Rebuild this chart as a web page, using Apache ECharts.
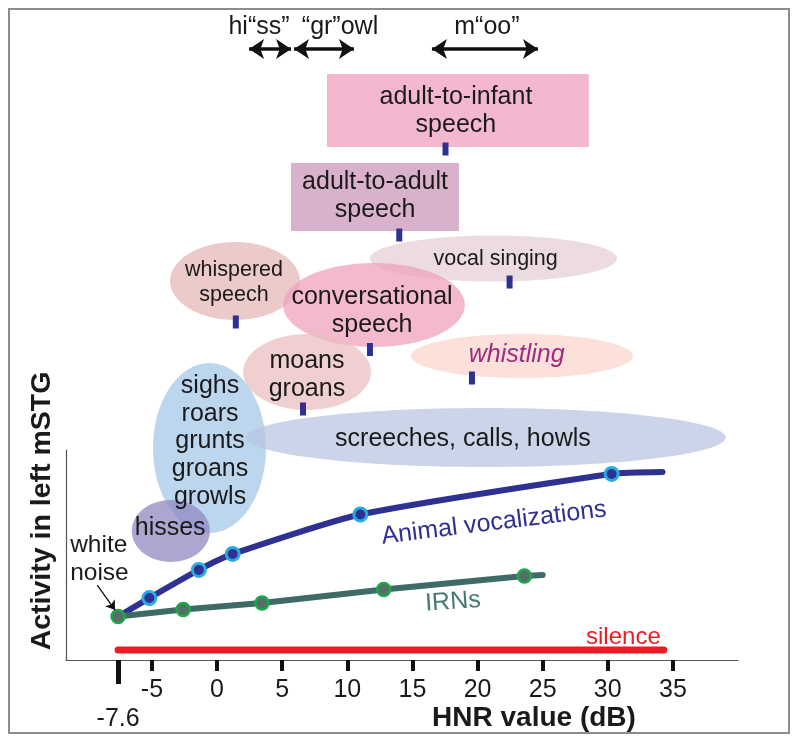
<!DOCTYPE html>
<html><head><meta charset="utf-8">
<script src="https://cdn.jsdelivr.net/npm/echarts@6/dist/echarts.min.js"></script>
<style>html,body{margin:0;padding:0;background:#fff}#chart{width:800px;height:743px}</style>
</head><body><div id="chart"></div>
<script>
// ---------- axis ----------
const hnrTicks = [-5, 0, 5, 10, 15, 20, 25, 30, 35];
const whiteNoiseHNR = [-7.6];
const hnrMin = -11.6, hnrMax = 40;

// ---------- lower plot (activity in left mSTG, arbitrary units 0-100) ----------
const animalHNR      = [-7.6, -5.2, -1.4, 1.2, 11.0, 30.3, 34.2];
const animalActivity = [20.7, 29.5, 42.9, 50.5, 69.3, 88.6, 89.5];
const animalMarked   = [false, true, true, true, true, true, false];

const irnHNR      = [-7.6, -2.6, 3.45, 12.8, 23.6, 25.0];
const irnActivity = [20.7, 24.0, 27.1, 33.6, 40.0, 40.5];
const irnMarked   = [true, true, true, true, true, false];

const silenceHNR      = [-7.6, 34.3];
const silenceActivity = [4.8, 4.8];

const noteTexts    = ['Animal vocalizations', 'IRNs', 'silence', 'white\nnoise'];
const noteHNR      = [21.26, 18.11, 31.2, -11.28];
const noteActivity = [65.2, 27.6, 11.0, 48.1];
const whiteNoiseArrowHNR      = [-9.2, -7.83];
const whiteNoiseArrowActivity = [35.7, 23.8];

// ---------- upper panel (sound categories by HNR; level = vertical placement) ----------
const boxNames = ['adult-to-infant speech', 'adult-to-adult speech'];
const boxHNRFrom = [8.44, 5.68];
const boxHNRTo   = [28.55, 18.57];
const boxLevelFrom = [513, 429];
const boxLevelTo   = [586, 497];

const ellipseNames = ['vocal singing', 'whispered speech', 'conversational speech', 'moans groans',
                      'whistling', 'sighs roars grunts groans growls', 'screeches, calls, howls', 'hisses'];
const ellipseHNR      = [21.22, 1.38, 12.05, 6.91, 23.41, -0.58, 20.64, -3.55];
const ellipseHNRHalf  = [9.48, 4.99, 6.98, 4.91, 8.52, 4.34, 18.42, 3.0];
const ellipseLevel     = [401.5, 379, 355, 288, 304, 212, 222.5, 129];
const ellipseLevelHalf = [23, 39, 42, 38, 22, 85, 29.5, 31];

const meanNames = ['adult-to-infant', 'adult-to-adult', 'vocal singing', 'whispered', 'conversational', 'whistling', 'moans groans'];
const meanHNR   = [17.54, 13.99, 22.46, 1.44, 11.74, 19.57, 6.6];
const meanLevel = [511, 425, 378, 338, 310.5, 282, 251];

const labelTexts = ['adult-to-infant\nspeech', 'adult-to-adult\nspeech', 'vocal singing', 'whispered\nspeech',
                    'conversational\nspeech', 'whistling', 'moans\ngroans', 'sighs\nroars\ngrunts\ngroans\ngrowls',
                    'screeches, calls, howls', 'hisses'];
const labelHNR   = [18.34, 12.13, 21.39, 1.3, 11.9, 23.0, 6.9, -0.54, 18.88, -3.6];
const labelLevel = [549, 464, 400.7, 377, 349, 305, 285, 218.5, 221, 132];

const arrowTexts = ['hi\u201css\u201d', '\u201cgr\u201dowl', 'm\u201coo\u201d'];
const arrowTextHNR = [3.22, 9.44, 20.72];
const arrowTextLevel = [633, 633, 633];
const arrowFrom = [2.46, 5.91, 16.5];
const arrowTo   = [5.68, 10.51, 24.64];
const arrowLevel = [611, 611, 611];

// ---------- styles ----------
const FONT = "'Liberation Sans', Arial, sans-serif";
const boxColors = ['#f3b8cf', '#d9b1cc'];
const ellipseColors = ['rgba(230,207,216,0.75)', 'rgba(230,184,184,0.75)', 'rgba(239,162,188,0.75)',
  'rgba(234,191,191,0.75)', 'rgba(252,214,205,0.75)', 'rgba(166,200,232,0.75)',
  'rgba(186,197,224,0.75)', 'rgba(144,136,194,0.75)'];
const labelStyles = [
  {size: 25, lh: 28.5}, {size: 25, lh: 28.5}, {size: 21.5, lh: 24}, {size: 21.5, lh: 25},
  {size: 25, lh: 28.5}, {size: 25, lh: 28, italic: true, color: '#9b2d7f'}, {size: 25, lh: 28.6},
  {size: 25, lh: 27.7}, {size: 25, lh: 28}, {size: 25, lh: 28}];
const noteStyles = [
  {size: 25, color: '#2e3192', rot: 7, align: 'center'},
  {size: 25, color: '#4b7873', rot: 4, align: 'center'},
  {size: 24, color: '#ed1c24', rot: 0, align: 'center'},
  {size: 24.5, color: '#1a1a1a', rot: 0, align: 'left', lh: 27.7}];

const chart = echarts.init(document.getElementById('chart'), null, {renderer: 'canvas'});

const animalData = animalHNR.map((x, i) => animalMarked[i] ? [x, animalActivity[i]] : {value: [x, animalActivity[i]], symbol: 'none'});
const irnData = irnHNR.map((x, i) => irnMarked[i] ? [x, irnActivity[i]] : {value: [x, irnActivity[i]], symbol: 'none'});

const option = {
  animation: false,
  backgroundColor: '#fff',
  grid: [
    {left: 66, right: 62, top: 450, bottom: 83},
    {left: 66, right: 62, top: 0, bottom: 83}
  ],
  xAxis: [
    {gridIndex: 0, type: 'value', min: hnrMin, max: hnrMax, position: 'bottom',
     axisLine: {show: true, onZero: false, lineStyle: {color: '#555', width: 1.2}},
     axisTick: {show: true, customValues: hnrTicks, length: 11, lineStyle: {color: '#111', width: 4}},
     axisLabel: {show: true, customValues: hnrTicks, margin: 18, fontSize: 25, fontFamily: FONT, color: '#1a1a1a'},
     splitLine: {show: false}},
    {gridIndex: 0, type: 'value', min: hnrMin, max: hnrMax, position: 'bottom',
     axisLine: {show: false, onZero: false},
     axisTick: {show: true, customValues: whiteNoiseHNR, length: 24, lineStyle: {color: '#111', width: 5}},
     axisLabel: {show: true, customValues: whiteNoiseHNR, margin: 47, fontSize: 25, fontFamily: FONT, color: '#1a1a1a'},
     splitLine: {show: false}},
    {gridIndex: 1, type: 'value', min: hnrMin, max: hnrMax, show: false}
  ],
  yAxis: [
    {gridIndex: 0, type: 'value', min: 0, max: 100,
     axisLine: {show: true, onZero: false, lineStyle: {color: '#555', width: 1.2}},
     axisTick: {show: false}, axisLabel: {show: false}, splitLine: {show: false}},
    {gridIndex: 1, type: 'value', min: 0, max: 660, show: false}
  ],
  graphic: [
    {type: 'rect', shape: {x: 9, y: 9, width: 780, height: 724}, style: {fill: 'none', stroke: '#8c8c8c', lineWidth: 2}, z: 100},
    {type: 'text', x: 42, y: 511, rotation: Math.PI / 2,
     style: {text: 'Activity in left mSTG', font: "bold 28.5px " + FONT, fill: '#1a1a1a', align: 'center', verticalAlign: 'middle'}},
    {type: 'text', x: 534, y: 718,
     style: {text: 'HNR value (dB)', font: "bold 28px " + FONT, fill: '#1a1a1a', align: 'center', verticalAlign: 'middle'}}
  ],
  series: [
    // category boxes
    {type: 'custom', xAxisIndex: 2, yAxisIndex: 1, z: 1,
     data: boxHNRFrom.map((x, i) => [x, boxLevelFrom[i], boxHNRTo[i], boxLevelTo[i]]),
     renderItem: (params, api) => {
       const p1 = api.coord([api.value(0), api.value(3)]);
       const p2 = api.coord([api.value(2), api.value(1)]);
       return {type: 'rect', shape: {x: p1[0], y: p1[1], width: p2[0] - p1[0], height: p2[1] - p1[1]},
               style: {fill: boxColors[params.dataIndex]}};
     }},
    // category ellipses
    {type: 'custom', xAxisIndex: 2, yAxisIndex: 1, z: 2,
     data: ellipseHNR.map((x, i) => [x, ellipseLevel[i], ellipseHNRHalf[i], ellipseLevelHalf[i]]),
     renderItem: (params, api) => {
       const c = api.coord([api.value(0), api.value(1)]);
       const e = api.coord([api.value(0) + api.value(2), api.value(1) + api.value(3)]);
       return {type: 'ellipse', shape: {cx: c[0], cy: c[1], rx: Math.abs(e[0] - c[0]), ry: Math.abs(e[1] - c[1])},
               style: {fill: ellipseColors[params.dataIndex]}};
     }},
    // mean HNR markers
    {type: 'scatter', xAxisIndex: 2, yAxisIndex: 1, z: 3,
     data: meanHNR.map((x, i) => [x, meanLevel[i]]),
     symbol: 'rect', symbolSize: [6, 13], itemStyle: {color: '#2e3192', opacity: 1}},
    // category labels
    {type: 'custom', xAxisIndex: 2, yAxisIndex: 1, z: 4,
     data: labelHNR.map((x, i) => [x, labelLevel[i]]),
     renderItem: (params, api) => {
       const c = api.coord([api.value(0), api.value(1)]);
       const s = labelStyles[params.dataIndex];
       return {type: 'text', x: c[0], y: c[1],
               style: {text: labelTexts[params.dataIndex], font: (s.italic ? 'italic ' : '') + s.size + 'px ' + FONT,
                       fill: s.color || '#1a1a1a', align: 'center', verticalAlign: 'middle', lineHeight: s.lh}};
     }},
    // top arrows
    {type: 'lines', coordinateSystem: 'cartesian2d', xAxisIndex: 2, yAxisIndex: 1, z: 4,
     data: arrowFrom.map((x, i) => ({coords: [[x, arrowLevel[i]], [arrowTo[i], arrowLevel[i]]]})),
     symbol: ['arrow', 'arrow'], symbolSize: 15,
     lineStyle: {color: '#111', width: 3.5, opacity: 1}},
    {type: 'custom', xAxisIndex: 2, yAxisIndex: 1, z: 4,
     data: arrowTextHNR.map((x, i) => [x, arrowTextLevel[i]]),
     renderItem: (params, api) => {
       const c = api.coord([api.value(0), api.value(1)]);
       return {type: 'text', x: c[0], y: c[1],
               style: {text: arrowTexts[params.dataIndex], font: '25px ' + FONT, fill: '#1a1a1a', align: 'center', verticalAlign: 'middle'}};
     }},
    // silence
    {type: 'line', xAxisIndex: 0, yAxisIndex: 0, z: 5,
     data: silenceHNR.map((x, i) => [x, silenceActivity[i]]), symbol: 'none',
     lineStyle: {color: '#ed1c24', width: 7, cap: 'round'}},
    // animal vocalizations
    {type: 'line', xAxisIndex: 0, yAxisIndex: 0, z: 6, smooth: 0.2, showAllSymbol: true,
     data: animalData, symbol: 'circle', symbolSize: 13,
     lineStyle: {color: '#2e3192', width: 6, cap: 'round'},
     itemStyle: {color: '#2e3192', borderColor: '#29abe2', borderWidth: 3}},
    // IRNs
    {type: 'line', xAxisIndex: 0, yAxisIndex: 0, z: 7, showAllSymbol: true,
     data: irnData, symbol: 'circle', symbolSize: 13,
     lineStyle: {color: '#3f6b67', width: 6, cap: 'round'},
     itemStyle: {color: '#556e6a', borderColor: '#1ea64a', borderWidth: 2.5}},
    // white noise arrow
    {type: 'lines', coordinateSystem: 'cartesian2d', xAxisIndex: 0, yAxisIndex: 0, z: 8,
     data: [{coords: whiteNoiseArrowHNR.map((x, i) => [x, whiteNoiseArrowActivity[i]])}],
     symbol: ['none', 'arrow'], symbolSize: 9,
     lineStyle: {color: '#111', width: 1.3, opacity: 1}},
    // annotations
    {type: 'custom', xAxisIndex: 0, yAxisIndex: 0, z: 9,
     data: noteHNR.map((x, i) => [x, noteActivity[i]]),
     renderItem: (params, api) => {
       const c = api.coord([api.value(0), api.value(1)]);
       const s = noteStyles[params.dataIndex];
       return {type: 'text', x: c[0], y: c[1], rotation: s.rot * Math.PI / 180,
               style: {text: noteTexts[params.dataIndex], font: s.size + 'px ' + FONT, fill: s.color,
                       align: s.align, verticalAlign: 'middle', lineHeight: s.lh || s.size + 4}};
     }}
  ]
};
chart.setOption(option);
</script></body></html>
